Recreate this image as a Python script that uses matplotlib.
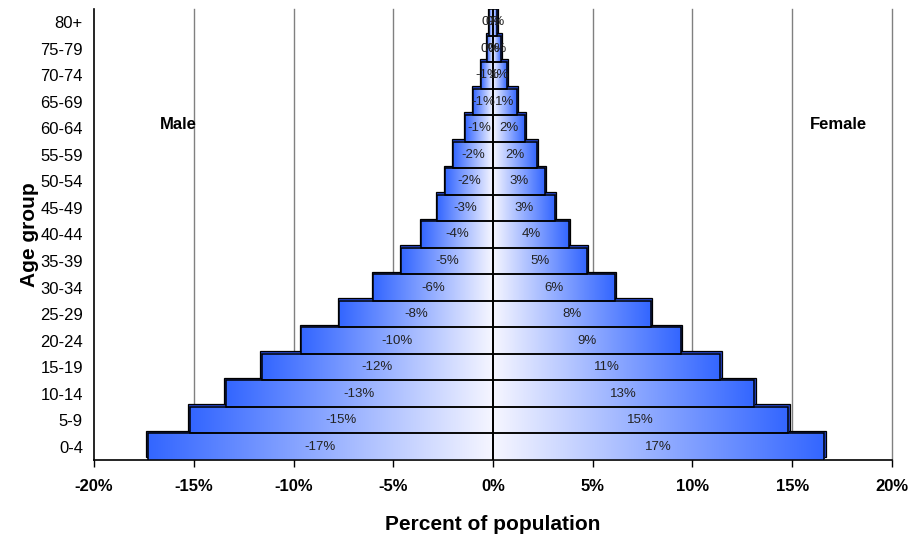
import numpy as np
import matplotlib
matplotlib.use("Agg")
import matplotlib.pyplot as plt
from matplotlib.colors import LinearSegmentedColormap
from matplotlib.patches import Rectangle

plt.rcParams['font.family'] = ['Liberation Sans', 'DejaVu Sans']

age_groups = ['0-4', '5-9', '10-14', '15-19', '20-24', '25-29', '30-34', '35-39',
              '40-44', '45-49', '50-54', '55-59', '60-64', '65-69', '70-74',
              '75-79', '80+']
male = [-17.3, -15.2, -13.4, -11.6, -9.6, -7.7, -6.0, -4.6,
        -3.6, -2.8, -2.4, -2.0, -1.4, -1.0, -0.6, -0.3, -0.2]
female = [16.6, 14.8, 13.1, 11.4, 9.4, 7.9, 6.1, 4.7,
          3.8, 3.1, 2.6, 2.2, 1.6, 1.2, 0.7, 0.4, 0.2]
xticks = [-20, -15, -10, -5, 0, 5, 10, 15, 20]

fig = plt.figure(figsize=(9.11, 5.36), dpi=100)
ax = fig.add_axes([0.1032, 0.1418, 0.8759, 0.8414])

grad = LinearSegmentedColormap.from_list('bluefade', ['#f6f6ff', '#3366ff'])
shadow = '#2444c8'
dx, dy = 0.07, 0.10   # shadow offset (outward, upward)

for i, (m, f) in enumerate(zip(male, female)):
    for v in (m, f):
        sgn = np.sign(v)
        # offset "3d" copy behind the bar
        ax.add_patch(Rectangle((0, i - 0.5 + dy), v + sgn * dx, 1.0,
                               facecolor=shadow, edgecolor='black', lw=0.9, zorder=2))
        # gradient fill, white at the centre line, blue at the outer end
        g = np.linspace(0, 1, 256).reshape(1, -1)
        if v < 0:
            g = g[:, ::-1]
        x0, x1 = min(0, v), max(0, v)
        ax.imshow(g, cmap=grad, extent=[x0, x1, i - 0.5, i + 0.5],
                  aspect='auto', interpolation='bilinear', zorder=3)
        ax.add_patch(Rectangle((0, i - 0.5), v, 1.0, facecolor='none',
                               edgecolor='black', lw=1.1, zorder=4))
        lab = int(round(abs(v))) * (1 if v > 0 else -1)
        ax.text(v / 2, i, f'{lab}%', ha='center', va='center',
                fontsize=9.5, color='#222222', zorder=5)

for t in xticks:
    if t == 0:
        ax.axvline(0, color='black', lw=1.2, zorder=4.5)
    elif t != -20:
        ax.axvline(t, color='#808080', lw=1.0, zorder=1, clip_on=False)

ax.set_xlim(-20, 20)
ax.set_ylim(-0.5, len(age_groups) - 0.5)
ax.set_xticks(xticks)
ax.set_xticklabels([f'{t}%' for t in xticks], fontsize=12, fontweight='bold')
ax.set_yticks(range(len(age_groups)))
ax.set_yticklabels(age_groups, fontsize=12)
ax.tick_params(axis='x', length=5, width=1, pad=9)
ax.tick_params(axis='y', length=0, pad=8)
for s in ('top', 'right'):
    ax.spines[s].set_visible(False)
ax.spines['left'].set_linewidth(1.2)
ax.spines['bottom'].set_linewidth(1.2)

ax.set_xlabel('Percent of population', fontsize=15, fontweight='bold', labelpad=15)
ax.set_ylabel('Age group', fontsize=15, fontweight='bold', labelpad=1)

ax.text(-16.7, 12.13, 'Male', fontsize=12, fontweight='bold', va='center')
ax.text(15.9, 12.13, 'Female', fontsize=12, fontweight='bold', va='center')

fig.savefig('out.png', dpi=100)
